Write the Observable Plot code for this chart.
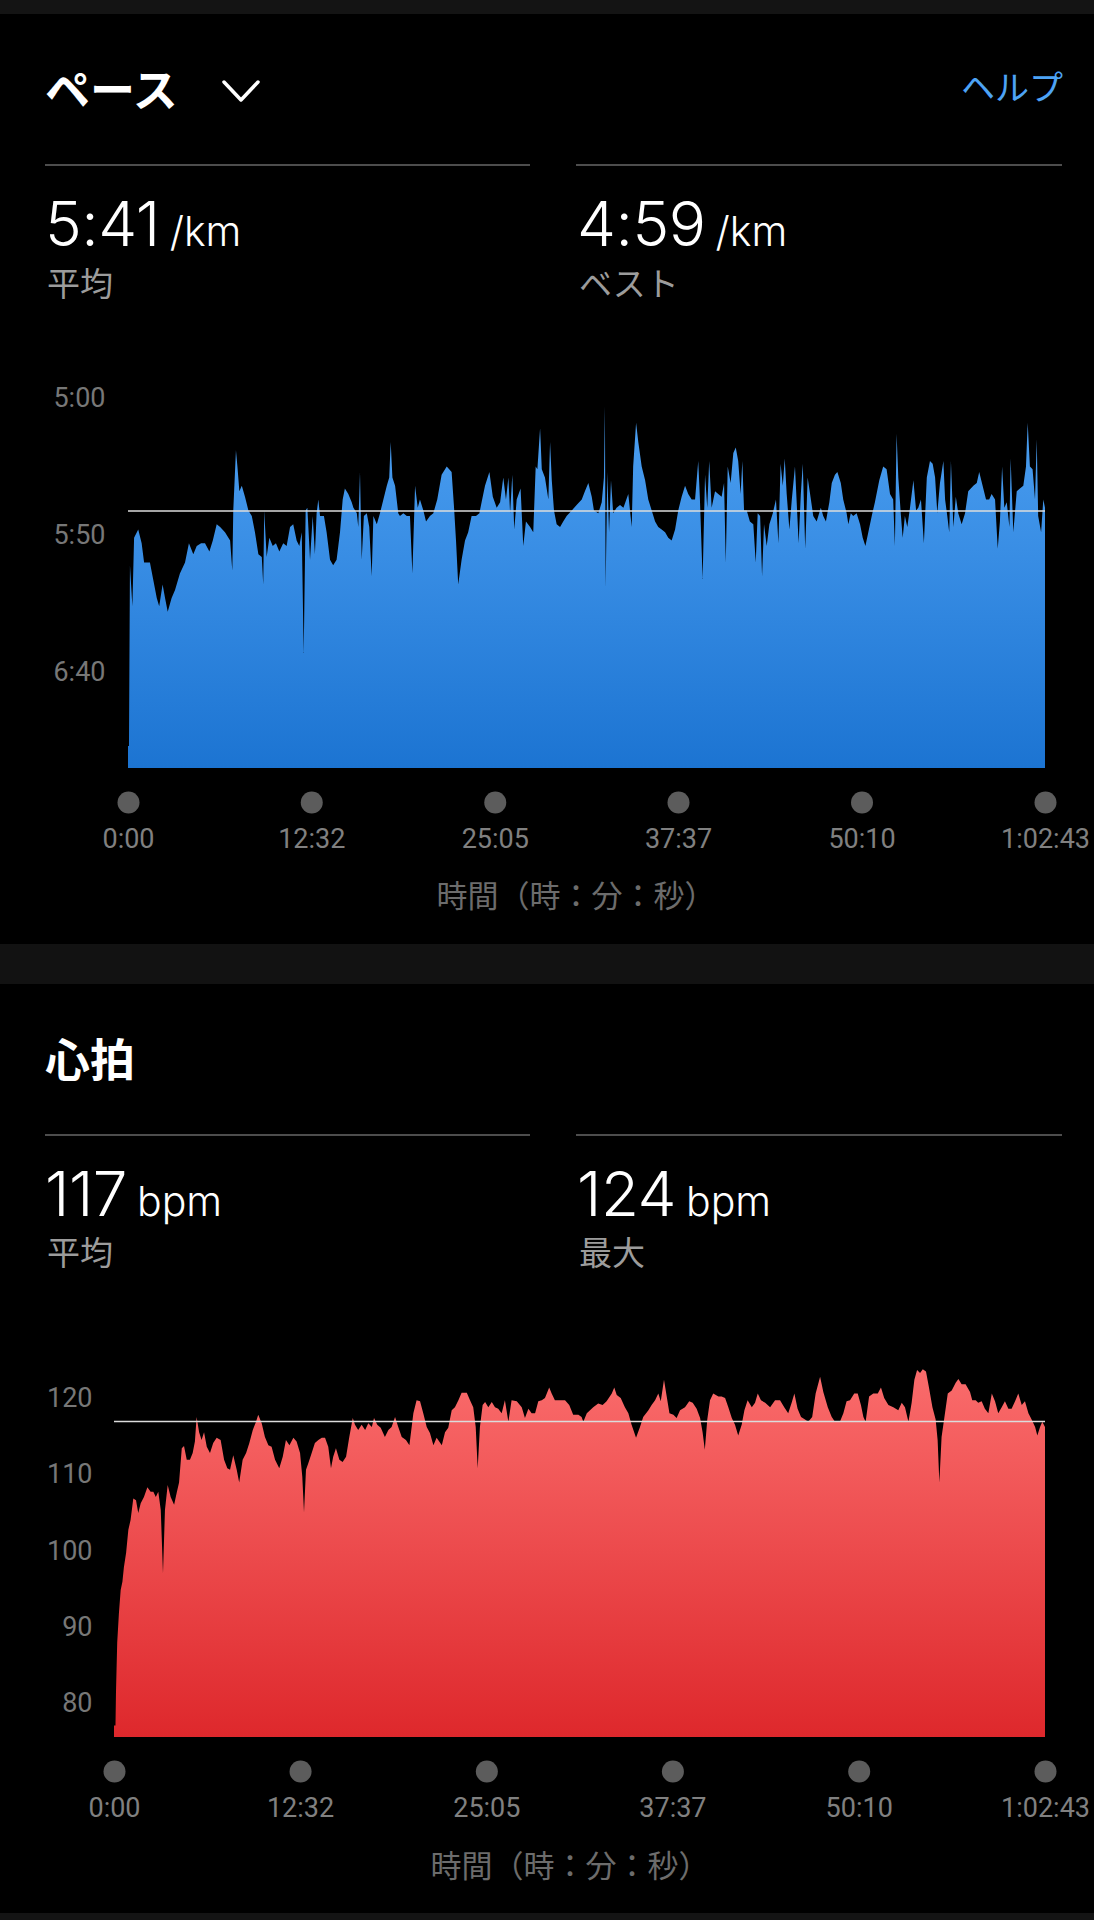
<!DOCTYPE html>
<html>
<head>
<meta charset="utf-8">
<script src="https://cdn.jsdelivr.net/npm/d3@7"></script>
<script src="https://cdn.jsdelivr.net/npm/@observablehq/plot@0.6"></script>
<style>
  html, body { margin: 0; padding: 0; background: #000; }
  body { width: 1094px; height: 1920px; position: relative; overflow: hidden; font-family: "Noto Sans CJK JP", "Noto Sans", sans-serif; }
  .abs { position: absolute; white-space: nowrap; }
  .band { position: absolute; left: 0; width: 1094px; background: #141414; }
  .title { font-size: 45px; font-weight: 700; color: #fff; line-height: 1; }
  .rule { position: absolute; height: 2px; background: #4d4d4d; }
  .big { font-family: Inter, Roboto, sans-serif; color: #fff; line-height: 1; font-variant-numeric: proportional-nums; }
  .big .num { font-size: 62px; font-weight: 300; letter-spacing: -0.5px; }
  .big .unit { font-size: 41px; font-weight: 300; margin-left: 10px; }
  .sub { font-size: 33px; color: #9c9c9c; line-height: 1; }
  .axtitle { font-size: 31px; color: #6c6c6c; line-height: 1; transform: translateX(-50%); }
  .chart { position: absolute; left: 0; }
</style>
</head>
<body>
<div class="band" style="top:0;height:14px"></div>
<div class="band" style="top:944px;height:40px;background:#121212"></div>
<div class="band" style="top:1913px;height:7px"></div>

<!-- Pace header -->
<div class="abs title" style="left:45px;top:65px">ペース</div>
<svg class="abs" style="left:220px;top:76px" width="44" height="30"><polyline points="4,6 21,24 38,6" fill="none" stroke="#fff" stroke-width="3.5" stroke-linecap="round" stroke-linejoin="round"/></svg>
<div class="abs" style="right:31px;top:69px;font-size:34px;color:#4da3f5;line-height:1">ヘルプ</div>
<div class="rule" style="left:45px;top:164px;width:485px"></div>
<div class="rule" style="left:576px;top:164px;width:486px"></div>
<div class="abs big" style="left:45px;top:193px"><span class="num">5:41</span><span class="unit">/km</span></div>
<div class="abs sub" style="left:47px;top:266px">平均</div>
<div class="abs big" style="left:577px;top:193px"><span class="num">4:59</span><span class="unit">/km</span></div>
<div class="abs sub" style="left:579px;top:266px">ベスト</div>

<div class="chart" id="pace" style="top:357px"></div>
<div class="abs axtitle" style="left:576px;top:878px">時間（時：分：秒）</div>

<!-- Heart rate header -->
<div class="abs title" style="left:45px;top:1035px">心拍</div>
<div class="rule" style="left:45px;top:1134px;width:485px"></div>
<div class="rule" style="left:576px;top:1134px;width:486px"></div>
<div class="abs big" style="left:45px;top:1163px"><span class="num">117</span><span class="unit">bpm</span></div>
<div class="abs sub" style="left:47px;top:1235px">平均</div>
<div class="abs big" style="left:577px;top:1163px"><span class="num">124</span><span class="unit">bpm</span></div>
<div class="abs sub" style="left:579px;top:1235px">最大</div>

<div class="chart" id="hr" style="top:1360px"></div>
<div class="abs axtitle" style="left:570px;top:1848px">時間（時：分：秒）</div>

<script>
// ---------- data ----------
// elapsed time ticks (seconds) and their labels
const xTicks = [0, 752, 1505, 2257, 3010, 3763];
const xLabels = ["0:00", "12:32", "25:05", "37:37", "50:10", "1:02:43"];

// pace: [elapsed seconds, seconds per km]
const paceAvg = 341;   // 5:41 /km
const paceTicks = [300, 350, 400];
const pace = [
[0,427],[4,427],[8,361],[18,376],[25,351],[42,348],[56,353],[66,360],[90,360],[103,366],
[118,373],[128,376],[142,368],[152,373],[163,378],[179,373],[193,370],[213,364],[234,360],[250,353],
[268,357],[282,354],[300,353],[316,353],[334,356],[348,352],[364,346],[378,347],[398,349],[419,352],
[428,363],[432,341],[443,319],[449,325],[457,334],[467,332],[480,336],[494,341],[508,343],[521,349],
[535,357],[549,358],[555,368],[559,341],[569,358],[580,351],[594,354],[607,353],[621,356],[637,353],
[651,354],[665,347],[678,346],[692,352],[703,354],[713,349],[721,393],[729,341],[736,340],[747,359],
[758,343],[767,357],[774,342],[781,337],[788,343],[804,343],[815,349],[829,359],[842,361],[856,359],
[870,349],[881,337],[890,333],[904,335],[918,338],[925,340],[939,342],[945,347],[952,327],[959,359],
[968,343],[980,342],[990,347],[1000,365],[1007,343],[1021,346],[1034,342],[1048,337],[1062,332],[1072,329],
[1078,316],[1085,329],[1096,332],[1109,342],[1116,343],[1130,342],[1144,343],[1157,343],[1167,364],[1178,332],
[1189,340],[1198,337],[1212,341],[1223,345],[1239,343],[1253,342],[1269,337],[1287,328],[1308,325],[1328,327],
[1338,340],[1346,352],[1355,368],[1369,359],[1383,352],[1396,349],[1410,343],[1428,343],[1442,342],[1451,338],
[1465,332],[1483,327],[1497,336],[1513,340],[1527,338],[1540,329],[1551,337],[1561,329],[1568,342],[1577,328],
[1585,348],[1595,337],[1611,333],[1622,354],[1633,345],[1650,347],[1663,349],[1673,325],[1680,326],[1691,311],
[1698,326],[1711,329],[1725,337],[1732,316],[1739,330],[1748,341],[1759,346],[1773,347],[1786,345],[1800,343],
[1821,341],[1841,339],[1862,337],[1875,334],[1889,331],[1903,336],[1912,341],[1930,342],[1944,338],[1953,329],
[1957,303],[1960,369],[1967,327],[1974,349],[1982,330],[1991,342],[2005,340],[2019,339],[2033,340],[2053,335],
[2067,347],[2073,325],[2085,309],[2094,316],[2108,325],[2122,330],[2135,337],[2149,341],[2163,345],[2176,347],
[2190,348],[2204,349],[2217,351],[2231,352],[2245,348],[2258,341],[2272,336],[2286,332],[2299,335],[2313,337],
[2327,337],[2340,323],[2347,337],[2358,366],[2368,328],[2377,340],[2385,323],[2395,340],[2409,334],[2422,335],
[2436,336],[2446,331],[2453,360],[2461,325],[2473,331],[2484,320],[2494,318],[2504,323],[2514,335],[2521,323],
[2528,341],[2539,341],[2552,345],[2566,346],[2576,360],[2584,342],[2594,343],[2602,365],[2610,346],[2621,354],
[2632,346],[2646,342],[2659,337],[2669,353],[2678,324],[2687,332],[2695,322],[2703,335],[2714,348],[2724,337],
[2737,325],[2744,338],[2752,353],[2761,335],[2769,324],[2779,355],[2789,329],[2799,335],[2812,343],[2826,345],
[2843,340],[2853,343],[2864,345],[2878,338],[2888,331],[2901,328],[2911,327],[2925,331],[2935,337],[2949,342],
[2956,346],[2966,342],[2976,343],[2990,342],[3004,346],[3015,351],[3026,354],[3038,349],[3052,343],[3065,338],
[3083,330],[3099,325],[3113,326],[3127,335],[3140,337],[3147,354],[3154,313],[3161,329],[3171,342],[3179,351],
[3188,343],[3198,347],[3209,340],[3223,330],[3234,341],[3243,340],[3254,337],[3266,353],[3278,329],[3291,323],
[3302,324],[3312,329],[3321,342],[3332,331],[3346,323],[3353,337],[3362,343],[3370,349],[3377,323],[3387,347],
[3397,336],[3407,342],[3421,346],[3435,342],[3448,334],[3469,332],[3483,331],[3493,327],[3507,332],[3521,337],
[3534,337],[3544,335],[3558,337],[3569,355],[3578,345],[3587,325],[3596,340],[3606,338],[3617,347],[3622,322],
[3633,349],[3647,334],[3660,333],[3674,332],[3685,325],[3692,309],[3701,325],[3712,326],[3722,337],[3729,315],
[3735,343],[3747,349],[3756,337],[3763,340]
];

// heart rate: [elapsed seconds, bpm]
const hrAvg = 117;
const hrTicks = [80, 90, 100, 110, 120];
const hr = [
[0,77],[6,77],[8,81.3],[13,87.9],[20,91.8],[27,94.8],[34,95.9],[40,97.8],[49,99.7],[58,102.7],
[67,104],[78,106.8],[89,106.6],[98,104.9],[108,106.2],[121,107],[135,108.3],[148,107.7],[159,107.7],[169,107],
[179,107.7],[189,105.3],[198,97],[206,105.3],[217,108.6],[229,107],[243,106],[253,107.5],[263,108.9],[274,113.4],
[283,113.7],[294,111.9],[307,111.9],[318,112.8],[327,114.3],[334,117.5],[344,115.5],[354,114.5],[364,115.5],[375,113.6],
[388,112.8],[401,114.1],[415,114.8],[431,114.5],[445,111.9],[458,110.8],[469,110.6],[482,112.5],[496,110.6],[506,108.9],
[520,111.9],[534,112.8],[547,114.1],[561,115.8],[574,116.9],[583,117.8],[597,116.7],[610,114.9],[624,113.8],[637,113.6],
[651,111.9],[668,110.8],[682,112.3],[695,114.5],[709,113.8],[725,114.8],[738,114.3],[752,112.8],[761,109.7],[768,105],
[776,110.6],[785,111.4],[799,112.8],[812,114.1],[826,114.5],[840,114.8],[853,114.8],[866,113.6],[877,110.8],[886,112.3],
[897,113.4],[911,111.9],[924,111.6],[938,112.3],[951,114.9],[965,117.4],[974,116.5],[987,115.8],[1001,116.5],[1015,115.8],
[1028,116.7],[1042,116.2],[1051,117.4],[1064,116.5],[1078,116.1],[1095,114.9],[1109,115.8],[1122,116.2],[1136,117.5],[1149,116.2],
[1163,114.9],[1180,114.5],[1194,113.8],[1210,118],[1223,119.7],[1237,119.6],[1250,118],[1264,116.2],[1277,115.4],[1291,113.8],
[1304,114.8],[1325,113.8],[1338,115.5],[1351,116.1],[1365,118.4],[1378,118.8],[1392,119.7],[1405,120.7],[1426,120.7],[1439,119.7],
[1452,118.8],[1462,116.2],[1470,110.8],[1479,116.2],[1490,119.1],[1500,119.5],[1513,118.8],[1527,119.5],[1540,118.8],[1553,118.6],
[1567,118],[1580,119.7],[1594,116.9],[1607,119.7],[1628,119.6],[1648,118.8],[1661,117.4],[1675,118.6],[1688,118],[1702,118],
[1715,119.6],[1729,119.7],[1742,120],[1759,121.4],[1769,120.6],[1782,119.7],[1803,119.7],[1823,119.7],[1840,119.1],[1856,117.8],
[1877,117.8],[1890,117.5],[1897,116.9],[1911,118],[1924,118.4],[1937,118.8],[1957,119.3],[1975,119.1],[1991,119.6],[2012,120.6],
[2022,121.4],[2032,120.4],[2048,120],[2065,118.8],[2079,118],[2092,116.5],[2110,114.8],[2126,116.2],[2139,117.5],[2160,118.4],
[2173,119.1],[2187,119.7],[2200,120.6],[2210,119.6],[2223,122.4],[2234,120.2],[2245,118],[2261,117.8],[2274,117.4],[2288,118.4],
[2308,118.8],[2325,119.6],[2339,119.4],[2355,118.6],[2369,117.4],[2379,115.5],[2388,113.2],[2398,117.2],[2409,119.7],[2422,120.6],
[2443,120.2],[2456,120.2],[2470,120],[2483,118.8],[2497,117.4],[2510,116.5],[2523,115.1],[2537,116.5],[2548,118.4],[2561,119.7],
[2578,118.8],[2591,119.4],[2602,120.6],[2615,119.7],[2632,119.4],[2652,118.8],[2672,119.7],[2692,119.7],[2709,118.8],[2725,118],
[2739,119.4],[2750,120.6],[2763,118.6],[2777,117.5],[2793,117.2],[2806,116.9],[2822,117.5],[2836,120.6],[2854,122.8],[2867,120.8],
[2885,118.8],[2901,117.5],[2914,116.9],[2934,116.9],[2948,118],[2961,119.6],[2975,119.7],[2992,120.6],[3006,120.6],[3019,119.1],
[3029,117.5],[3038,116.9],[3052,120.2],[3069,120.6],[3087,120.6],[3100,121.4],[3113,120],[3130,119.1],[3150,118.8],[3170,118.4],
[3184,119.4],[3197,118.8],[3211,116.9],[3224,119.4],[3235,122.4],[3246,123.7],[3258,123.3],[3269,123.8],[3282,123.5],[3294,121.4],
[3308,118.8],[3321,117.2],[3329,114.5],[3336,108.9],[3345,114.9],[3356,117.4],[3370,120.6],[3386,121],[3402,122],[3413,122.5],
[3426,121.8],[3442,121.8],[3460,120.8],[3469,119.7],[3483,119.7],[3493,119.4],[3507,119.6],[3520,118.6],[3534,118],[3548,120.6],
[3561,119.6],[3574,118],[3588,118.8],[3601,119.6],[3615,118.6],[3628,118.6],[3642,119.6],[3655,120.6],[3669,119.1],[3682,119.6],
[3696,118],[3709,117.2],[3723,116.2],[3732,115.1],[3743,116.2],[3752,116.9],[3763,116.2]
];

// ---------- helpers ----------
const fmtPace = s => `${Math.floor(s / 60)}:${String(s % 60).padStart(2, "0")}`;

function gradientDef(id, top, bottom) {
  return () => {
    const ns = "http://www.w3.org/2000/svg";
    const defs = document.createElementNS(ns, "defs");
    const g = document.createElementNS(ns, "linearGradient");
    g.setAttribute("id", id);
    g.setAttribute("x1", "0"); g.setAttribute("y1", "0");
    g.setAttribute("x2", "0"); g.setAttribute("y2", "1");
    [[0, top], [1, bottom]].forEach(([o, c]) => {
      const s = document.createElementNS(ns, "stop");
      s.setAttribute("offset", o);
      s.setAttribute("stop-color", c);
      g.appendChild(s);
    });
    defs.appendChild(g);
    return defs;
  };
}

function timeChart({data, yDomain, avg, ticks, tickFormat, gradId, top, bottom, height, marginLeft, tickPadding}) {
  return Plot.plot({
    width: 1094,
    height,
    marginLeft,
    marginRight: 49,
    marginTop: 0,
    marginBottom: 100,
    x: {domain: [0, 3763], axis: null},
    y: {domain: yDomain, axis: null},
    style: {background: "transparent", color: "#777", fontFamily: "Roboto, 'Liberation Sans', sans-serif", overflow: "visible"},
    marks: [
      gradientDef(gradId, top, bottom),
      Plot.areaY(data, {x: d => d[0], y1: yDomain[0], y2: d => d[1], fill: `url(#${gradId})`}),
      Plot.ruleY([avg], {stroke: "#dcdcdc", strokeWidth: 1.6}),
      Plot.axisY({ticks, tickFormat, tickSize: 0, tickPadding, fontSize: 27, label: null, fill: "#777"}),
      Plot.dot(xTicks, {x: d => d, frameAnchor: "bottom", dy: 34, r: 11, fill: "#5c5c5c", stroke: null}),
      Plot.text(xTicks, {x: d => d, text: (d, i) => xLabels[i], frameAnchor: "bottom", dy: 79, fontSize: 27, fill: "#808080"})
    ]
  });
}

document.getElementById("pace").appendChild(timeChart({
  data: pace, yDomain: [435, 285], avg: paceAvg, ticks: paceTicks, tickFormat: fmtPace,
  gradId: "paceGrad", top: "#4c9ff1", bottom: "#1c74d2",
  height: 511, marginLeft: 128, tickPadding: 23
}));

document.getElementById("hr").appendChild(timeChart({
  data: hr, yDomain: [75.5, 125], avg: hrAvg, ticks: hrTicks, tickFormat: d => String(d),
  gradId: "hrGrad", top: "#fa6c6c", bottom: "#de282c",
  height: 477, marginLeft: 114, tickPadding: 22
}));
</script>
</body>
</html>
